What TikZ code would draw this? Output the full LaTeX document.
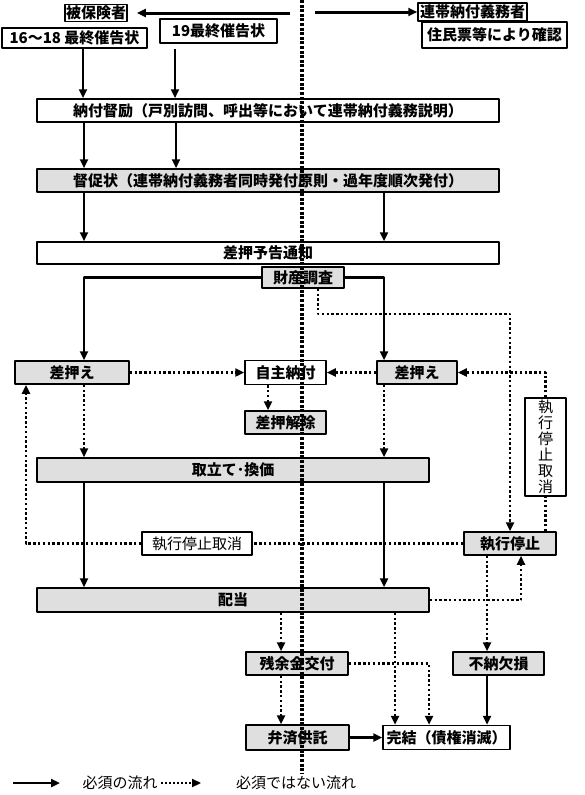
\documentclass[tikz,border=0pt]{standalone}
\usepackage{fontspec}
\newfontfamily\jp{Noto Sans CJK JP}
\usetikzlibrary{arrows.meta}
\def\fs{\fontsize{15}{16}\selectfont}
\tikzset{
 wbox/.style={draw,line width=1.5pt,inner sep=0pt,font=\fs\jp\bfseries},
 gbox/.style={wbox,fill=gray!25},
 tbox/.style={draw,line width=1.5pt,inner sep=0pt,font=\fs\jp},
 must/.style={line width=2.4pt,->},
 opt/.style={line width=2.4pt,dash pattern=on 2.4pt off 2.4pt},
}
\begin{document}
\begin{tikzpicture}[x=1pt,y=-1pt,line join=round,>={Triangle[length=9pt,width=8pt]}]
 \useasboundingbox (0,0) rectangle (584,795);
 % top
 \node[wbox,minimum width=62,minimum height=17] (ins) at (96,13) {被保険者};
 \node[wbox,minimum width=109,minimum height=18] (joint) at (472.5,12) {連帯納付義務者};
 \node[wbox,minimum width=145,minimum height=26] (jumin) at (494.5,35) {住民票等により確認};
 \node[wbox,minimum width=145,minimum height=20] (fin1618) at (74.5,38) {16～18 最終催告状};
 \node[wbox,minimum width=117,minimum height=24] (fin19) at (218.5,31) {19最終催告状};
 \coordinate (ctrL) at (290,13);
 \coordinate (ctrR) at (315,12);
 \draw[must,line width=3pt,shorten >=9pt] (ctrL) -- (ins.east);
 \draw[must,line width=3pt] (ctrR) -- (joint.west);
 % main column
 \node[wbox,minimum width=462,minimum height=23] (tokurei) at (268,110.5) {納付督励（戸別訪問、呼出等において連帯納付義務説明）};
 \node[gbox,minimum width=462,minimum height=23] (tokusoku) at (268,180.5) {督促状（連帯納付義務者同時発付原則・過年度順次発付）};
 \node[wbox,minimum width=462,minimum height=22] (yokoku) at (268,253) {差押予告通知};
 \node[gbox,minimum width=82,minimum height=21] (chosa) at (303,277.5) {財産調査};
 \node[gbox,minimum width=114,minimum height=23] (sashiL) at (72,372.5) {差押え};
 \node[wbox,minimum width=81,minimum height=24] (jishu) at (285.5,372.5) {自主納付};
 \node[gbox,minimum width=80,minimum height=23] (sashiR) at (417,372.5) {差押え};
 \node[gbox,minimum width=81,minimum height=23] (kaijo) at (285.5,422.5) {差押解除};
 \node[tbox,minimum width=41,minimum height=98,align=center] (teishiV) at (545.5,447) {執\\行\\停\\止\\取\\消};
 \node[gbox,minimum width=392,minimum height=24] (tateshi) at (233,470) {取立て･換価};
 \node[tbox,minimum width=110,minimum height=23] (cancelH) at (197,543.5) {執行停止取消};
 \node[gbox,minimum width=92,minimum height=23] (shikko) at (510,543.5) {執行停止};
 \node[gbox,minimum width=392,minimum height=24] (haito) at (233,600) {配当};
 \node[gbox,minimum width=102,minimum height=23] (zanyo) at (297,663.5) {残余金交付};
 \node[gbox,minimum width=91,minimum height=23] (funou) at (498.5,663.5) {不納欠損};
 \node[gbox,minimum width=103,minimum height=25] (bensai) at (297.5,737.5) {弁済供託};
 \node[wbox,minimum width=127,minimum height=24] (kanketsu) at (446.5,737.5) {完結（債権消滅）};
 % required flow
 \draw[must] (fin1618.south -| 83,0) -- (tokurei.north -| 83,0);
 \draw[must,shorten <=5pt] (fin19.south -| 175,0) -- (tokurei.north -| 175,0);
 \foreach \x in {84,176} \draw[must] (tokurei.south -| \x,0) -- (tokusoku.north -| \x,0);
 \foreach \x in {84,384} \draw[must] (tokusoku.south -| \x,0) -- (yokoku.north -| \x,0);
 \draw[must] (chosa.west) -| (sashiL.north -| 84,0);
 \draw[must] (chosa.east) -| (sashiR.north -| 384,0);
 \foreach \x in {84,384} \draw[must] (tateshi.south -| \x,0) -- (haito.north -| \x,0);
 \draw[must] (funou.south -| 487,0) -- (kanketsu.north -| 487,0);
 \draw[must] (bensai.east) -- (kanketsu.west);
 % optional flow
 \draw[opt,->] (chosa.south -| 318,0) -- ++(0,25) -| (shikko.north -| 510,0);
 \draw[opt,->] (sashiL.east) -- (jishu.west);
 \draw[opt,->] (sashiR.west) -- (jishu.east);
 \draw[opt,->] (jishu.south -| 268,0) -- (kaijo.north -| 268,0);
 \draw[opt,->] (sashiL.south -| 84,0) -- (tateshi.north -| 84,0);
 \draw[opt,->] (sashiR.south -| 384,0) -- (tateshi.north -| 384,0);
 \draw[opt] (shikko.north -| teishiV.south) -- (teishiV.south);
 \draw[opt,->] (teishiV.north) |- (sashiR.east);
 \draw[opt] (shikko.west) -- (cancelH.east);
 \draw[opt,->] (cancelH.west) -| (sashiL.south -| 26,0);
 \draw[opt,->] (haito.east) -| (shikko.south -| 521,0);
 \draw[opt,->] (shikko.south -| 487,0) -- (funou.north -| 487,0);
 \draw[opt,->] (haito.south -| 281,0) -- (zanyo.north -| 281,0);
 \draw[opt,->] (haito.south -| 395,0) -- (kanketsu.north -| 395,0);
 \draw[opt,->] (zanyo.east) -| (kanketsu.north -| 429,0);
 \draw[opt,->] (zanyo.south -| 281,0) -- (bensai.north -| 281,0);
 % legend
 \coordinate (l0) at (13,783);
 \draw[must,line width=2.6pt] (l0) -- ++(47,0);
 \node[font=\fs\jp] (leg1) at (120,783) {必須の流れ};
 \draw[opt,line width=2pt,dash pattern=on 2pt off 2pt,->] (leg1.east) -- ++(40,0);
 \node[font=\fs\jp] (leg2) at (296,783) {必須ではない流れ};
 % center line
 \coordinate (top) at (302,0);
 \coordinate (bot) at (302,773);
 \draw[line width=3.2pt,dash pattern=on 3pt off 1.6pt] (top) -- (bot);
\end{tikzpicture}
\end{document}
